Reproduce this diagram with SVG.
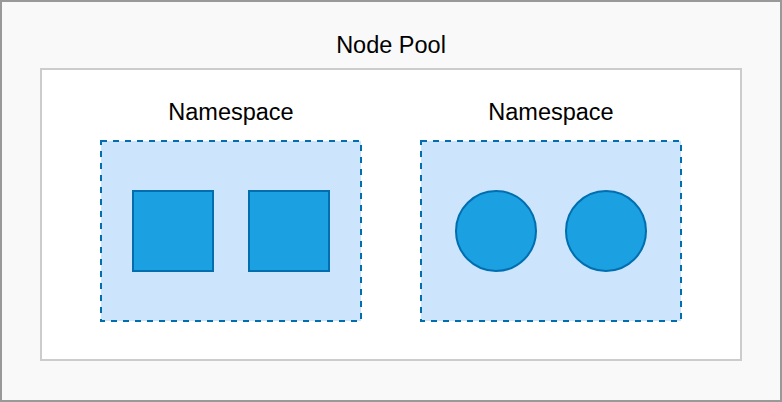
<svg xmlns="http://www.w3.org/2000/svg" width="782" height="402" viewBox="0 0 782 402">
<style>
text{font-family:"Liberation Sans",Arial,sans-serif;font-size:23.5px;fill:#000;text-anchor:middle}
.ns{fill:#cce5fc;stroke:#006eaf;stroke-width:2;stroke-dasharray:6 6}
.pod{fill:#1ba0e1;stroke:#006eaf;stroke-width:2}
</style>
<g id="nodepool">
<rect x="1" y="1" width="780" height="400" fill="#f9f9f9" stroke="#999" stroke-width="2"/>
<text x="391" y="53">Node Pool</text>
</g>
<g id="pool-inner">
<rect x="41" y="69" width="700" height="291" fill="#fff" stroke="#ccc" stroke-width="2"/>
</g>
<g id="ns1">
<text x="231" y="120">Namespace</text>
<rect class="ns" x="101" y="141" width="260" height="180"/>
</g>
<g id="ns2">
<text x="551" y="120">Namespace</text>
<rect class="ns" x="421" y="141" width="260" height="180"/>
</g>
<g id="sq1"><rect class="pod" x="133" y="191" width="80" height="80"/></g>
<g id="sq2"><rect class="pod" x="249" y="191" width="80" height="80"/></g>
<g id="c1"><circle class="pod" cx="496" cy="231" r="40"/></g>
<g id="c2"><circle class="pod" cx="606" cy="231" r="40"/></g>
<g id="connectors"></g>
</svg>
